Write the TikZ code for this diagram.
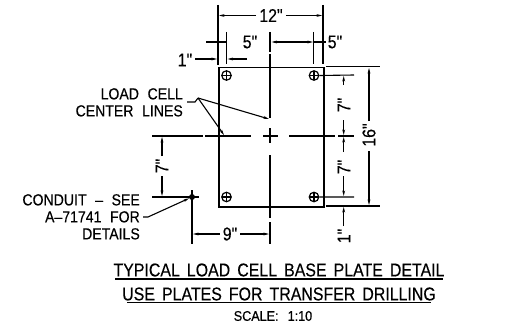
\documentclass[tikz,border=0pt]{standalone}
\usepackage{fontspec}
\setmainfont{Liberation Sans}
\newfontfamily\cadfont[FakeStretch=0.86,FakeBold=0.25,WordSpace=1.6]{Liberation Sans}
\newfontfamily\cadnote[FakeStretch=0.88,FakeBold=0.25,WordSpace=2.2]{Liberation Sans}
\newfontfamily\cadbold[FakeStretch=0.9,FakeBold=0.6,WordSpace=1.3]{Liberation Sans}
\usetikzlibrary{arrows.meta}
\tikzset{
 line/.style={black,line width=1.1pt},
 plate/.style={black,line width=1.5pt},
 tip/.style={-{Stealth[length=5.5pt,width=2.8pt]}},
 tips/.style={{Stealth[length=5.5pt,width=2.8pt]}-{Stealth[length=5.5pt,width=2.8pt]}},
 note/.style={inner sep=0pt,font=\cadnote\fontsize{16}{16}\selectfont,align=right},
 dim/.style={inner sep=0pt,font=\cadfont\fontsize{18.5}{18}\selectfont},
 title/.style={inner sep=0pt,font=\cadfont\fontsize{18.5}{19}\selectfont},
 hole/.style={circle,draw,line width=1.2pt,minimum size=9.5pt,inner sep=0pt,path picture={
   \draw[line width=1.1pt] (path picture bounding box.north)--(path picture bounding box.south)
     (path picture bounding box.east)--(path picture bounding box.west);}},
}
\begin{document}
\begin{tikzpicture}[x=1pt,y=-1pt]
\useasboundingbox[fill=white] (0,0) rectangle (506,329);
% plate
\node[draw,plate,minimum width=105pt,minimum height=139.5pt,inner sep=0pt,anchor=north west] (pl) at (218,66.7) {};
\node[hole] (h1) at (226.5,75.5) {};
\node[hole] (h2) at (314,75.5) {};
\node[hole] (h3) at (226.5,197) {};
\node[hole] (h4) at (314,197) {};
% extension lines
\draw[line] (218,5)--(218,65) (323,5)--(323,64);
\draw[line] (226.3,32)--(226.3,64) (313.8,32)--(313.8,64);
\draw[line] (270,32)--(270,52) (270,54)--(270,118) (270,128)--(270,143) (270,155)--(270,218) (270,222)--(270,244);
\draw[line] (152,136)--(203,136) (205,136)--(251,136) (263,136)--(278,136) (289,136)--(335,136) (338,136)--(354,136);
\draw[line] (326,66.7)--(380,66.7) (326,206)--(380,206);
\draw[line] (h2.east)--(354,75) (h4.east)--(354,197);
\draw[line] (152,197)--(199,197);
\draw[line] (192,190)--(192,244);
% 12
\node[dim] (d12) at (271,15.5) {12"};
\draw[line,tip] (d12.west)++(-3,0)--(219,15.5);
\draw[line,tip] (d12.east)++(3,0)--(322,15.5);
% 5 / 5 / 1
\node[dim] (d5a) at (250,42) {5"};
\node[dim] (d5b) at (335,42) {5"};
\draw[line] (206,42)--(226,42);
\draw[line,tips] (271.5,42)--(313,42);
\draw[line] (314,42)--(326,42);
\node[dim] (d1) at (185,60) {1"};
\draw[line,tip] (d1.east)++(3,-1)--(217,59);
\draw[line,tip] (247,59)--(227.5,59);
% 16
\node[dim,rotate=90] (d16) at (369,135) {16"};
\draw[line,tip] (369,121)--(369,68);
\draw[line,tip] (369,151)--(369,205);
% right 7s
\node[dim,rotate=90] (d7a) at (344,105) {7"};
\node[dim,rotate=90] (d7b) at (344,167) {7"};
\node[dim,rotate=90] (d1b) at (344,236) {1"};
\node[dim,rotate=90] (d7c) at (162,166) {7"};
\draw[line,tip] (343.7,85)--(343.7,76);
\draw[line,tip] (343.7,120)--(343.7,135);
\draw[line,tip] (343.7,152)--(343.7,137);
\draw[line,tip] (343.7,176)--(343.7,196);
\draw[line,tip] (343.7,226)--(343.7,207);
% left 7
\draw[line,tip] (162,156)--(162,137);
\draw[line,tip] (162,176)--(162,196);
% 9
\node[dim] (d9) at (230,234) {9"};
\draw[line,tip] (d9.west)++(-3,0)--(193,234);
\draw[line,tip] (d9.east)++(3,0)--(269,234);
% conduit
\node[circle,fill=black,minimum size=6pt,inner sep=0pt] (dot) at (192,197) {};
\node[note,anchor=north east] (cond) at (140,194) {CONDUIT\ – SEE\\[1pt]A–71741 FOR\\[1pt]DETAILS};
\coordinate (cl) at (148,217);
\draw[line,tip] (143,217)--(cl)--(dot);
% load cell
\node[note,anchor=north east] (lc) at (183,88) {LOAD CELL\\[1pt]CENTER LINES};
\coordinate (k) at (198,98);
\coordinate (a1) at (269,119);
\coordinate (a2) at (224,135);
\draw[line] (187,102)--(195,102)--(k);
\draw[line,tip] (k)--(a1);
\draw[line,tip] (k)--(a2);
% titles
\node[title] (t1) at (279,270) {TYPICAL LOAD CELL BASE PLATE DETAIL};
\draw[line width=1.3pt] (115,279)--(443,279);
\node[title] (t2) at (279,294) {USE PLATES FOR TRANSFER DRILLING};
\draw[line width=1.3pt] (127,302.5)--(431,302.5);
\node[inner sep=0pt,font=\cadbold\fontsize{14}{14}\selectfont] (t3) at (273,316) {SCALE:\ \ 1:10};
\end{tikzpicture}
\end{document}
